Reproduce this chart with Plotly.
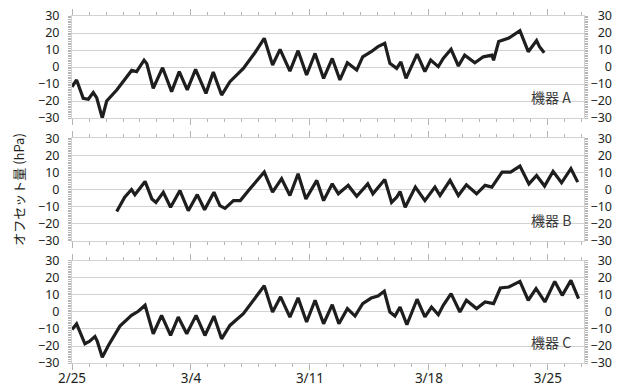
import pandas as pd
import plotly.graph_objects as go

BASE = pd.Timestamp("2023-02-25")

# Instrument A: (day offset from 2/25, offset hPa)
a_day = [0.0, 0.27, 0.66, 0.96, 1.25, 1.45, 1.78, 2.04, 2.63, 3.51, 3.80, 4.24, 4.40, 4.78, 5.33,
         5.86, 6.31, 6.78, 7.27, 7.88, 8.31, 8.80, 9.29, 10.08, 10.76, 11.31, 11.80, 12.24, 12.82,
         13.30, 13.80, 14.30, 14.80, 15.31, 15.76, 16.20, 16.75, 17.10, 17.60, 18.00, 18.40, 18.70,
         19.10, 19.35, 19.65, 20.30, 20.76, 21.10, 21.55, 21.84, 22.30, 22.73, 23.10, 23.70, 24.20,
         24.70, 24.80, 25.10, 25.70, 26.35, 26.84, 27.33, 27.50, 27.78]
a_val = [-11.6, -7.6, -18.4, -19.0, -15.0, -18.0, -30.0, -20.0, -13.5, -2.0, -2.7, 4.0, 2.0, -12.5, -0.4,
         -14.5, -2.7, -13.5, -1.4, -15.5, -3.0, -16.5, -8.6, -0.8, 8.4, 16.9, 1.2, 10.4, -2.4,
         9.6, -4.7, 8.0, -6.7, 5.0, -7.6, 2.5, -1.8, 6.0, 9.0, 12.0, 14.0, 2.2,
         -0.8, 3.0, -6.7, 7.6, -2.7, 4.1, 0.2, 5.0, 10.4, 0.6, 7.0, 2.5, 6.0,
         7.0, 4.0, 15.0, 17.0, 21.4, 9.0, 15.5, 12.0, 8.4]

# Instrument B
b_day = [2.63, 3.10, 3.50, 3.70, 4.30, 4.70, 4.94, 5.37, 5.80, 6.35, 6.84, 7.37, 7.80, 8.35, 8.70,
         9.00, 9.50, 9.90, 10.47, 11.31, 11.80, 12.33, 12.82, 13.30, 13.76, 14.00, 14.40, 14.80,
         15.31, 15.67, 16.25, 16.75, 17.40, 17.70, 18.40, 18.80, 19.10, 19.30, 19.60, 20.20, 20.76,
         21.35, 21.65, 22.24, 22.73, 23.20, 23.80, 24.30, 24.70, 25.30, 25.80, 26.35, 26.88, 27.33,
         27.80, 28.30, 28.80, 29.35, 29.75]
b_val = [-12.9, -4.5, 0.0, -3.0, 4.7, -5.5, -7.5, -1.6, -10.4, -0.6, -12.4, -3.0, -11.8, -1.6, -9.4,
         -11.0, -6.5, -6.5, 0.4, 10.2, -1.6, 6.3, -3.5, 9.2, -5.5, -1.6, 5.3, -6.5,
         3.3, -2.5, 2.4, -4.0, 3.3, -2.5, 5.9, -7.5, -4.5, -1.2, -10.4, 1.4, -6.5,
         1.4, -3.5, 5.3, -3.5, 2.7, -2.5, 2.4, 1.4, 10.2, 10.2, 13.7, 3.3, 8.2,
         2.0, 10.6, 3.9, 12.2, 4.3]

# Instrument C
c_day = [0.0, 0.27, 0.76, 1.02, 1.35, 1.49, 1.78, 2.14, 2.82, 3.50, 3.90, 4.30, 4.78, 5.27, 5.80,
         6.25, 6.75, 7.30, 7.82, 8.35, 8.80, 9.29, 10.08, 10.76, 11.31, 11.80, 12.27, 12.82, 13.30,
         13.80, 14.30, 14.80, 15.31, 15.70, 16.20, 16.65, 17.10, 17.60, 18.00, 18.37, 18.70, 19.00,
         19.30, 19.70, 20.30, 20.76, 21.15, 21.55, 21.84, 22.30, 22.82, 23.20, 23.80, 24.30, 24.80,
         25.20, 25.70, 26.35, 26.84, 27.30, 27.82, 28.40, 28.84, 29.35, 29.80]
c_val = [-10.3, -7.0, -18.7, -17.3, -14.4, -17.3, -26.6, -19.7, -8.3, -2.0, 0.4, 4.0, -12.8, -2.0, -13.8,
         -3.0, -12.8, -2.0, -13.8, -2.4, -15.8, -7.9, -1.0, 8.3, 15.4, 0.0, 8.9, -3.0, 8.3,
         -5.9, 6.9, -6.9, 4.3, -6.9, 2.0, -2.4, 4.9, 8.2, 9.4, 12.2, 0.0, -2.4,
         2.9, -7.5, 7.5, -2.9, 2.9, -1.6, 3.9, 10.8, 0.0, 6.9, 2.0, 5.9, 4.9,
         14.1, 14.7, 18.0, 6.9, 13.7, 5.9, 18.0, 9.8, 18.6, 7.8]

panel_labels = ["機器 A", "機器 B", "機器 C"]
y_ticks = [-30, -20, -10, 0, 10, 20, 30]
y_title = "オフセット量 (hPa)"

NUM_FONT = "Noto Sans, Open Sans, sans-serif"
JP_FONT = "Noto Sans CJK JP, sans-serif"
LINE_C = "#1e1e1e"
GRID_C = "#d2d2d2"
TICK_C = "#b4b4b4"
TXT_C = "#231f20"

series = [(a_day, a_val), (b_day, b_val), (c_day, c_val)]
domains = [[0.706, 1.0], [0.352, 0.648], [0.0, 0.294]]

fig = go.Figure()
x0 = BASE
x1 = BASE + pd.Timedelta(days=30.12)

def ylab_right(v):
    s = str(v).replace("-", "\u2212")
    if v < 0:
        return s
    return "\u2007" * max(3 - len(s), 0) + s

for i, (d, v) in enumerate(series):
    n = i + 1
    xs = [BASE + pd.Timedelta(days=t) for t in d]
    fig.add_trace(go.Scatter(x=xs, y=v, mode="lines",
                             line=dict(color=LINE_C, width=3.2),
                             xaxis=f"x{n}" if n > 1 else "x",
                             yaxis=f"y{n}" if n > 1 else "y",
                             showlegend=False, hoverinfo="skip"))
    xa = dict(type="date", range=[x0, x1], anchor=f"y{n}" if n > 1 else "y",
              tick0=BASE, dtick=7 * 86400000, tickformat="%-m/%-d",
              ticks="outside", ticklen=6, tickcolor=TICK_C, tickwidth=1,
              minor=dict(dtick=86400000, ticks="outside", ticklen=3, tickcolor=TICK_C),
              showline=True, linecolor=GRID_C, mirror="ticks",
              showgrid=False, showticklabels=(n == 3), ticklabeloverflow="allow",
              ticklabelstandoff=-3,
              tickfont=dict(family=NUM_FONT, size=13.5, color=TXT_C))
    if n > 1:
        xa["matches"] = "x"
    ya = dict(domain=domains[i], range=[-30, 30], tickvals=y_ticks,
              ticktext=[str(t).replace("-", "\u2212") for t in y_ticks],
              anchor=f"x{n}" if n > 1 else "x",
              ticks="outside", ticklen=3, tickcolor=TICK_C,
              minor=dict(dtick=1, ticks="outside", ticklen=3, tickcolor=TICK_C),
              showgrid=True, gridcolor=GRID_C, gridwidth=1,
              showline=True, linecolor=GRID_C, mirror=True, zeroline=False,
              ticklabelstandoff=6, ticklabeloverflow="allow",
              tickfont=dict(family=NUM_FONT, size=12.5, color=TXT_C))
    yr = dict(domain=domains[i], range=[-30, 30], tickvals=y_ticks,
              ticktext=[ylab_right(t) for t in y_ticks],
              overlaying=f"y{n}" if n > 1 else "y", side="right",
              anchor=f"x{n}" if n > 1 else "x",
              ticks="outside", ticklen=3, tickcolor=TICK_C,
              minor=dict(dtick=1, ticks="outside", ticklen=3, tickcolor=TICK_C),
              showgrid=False, showline=False, zeroline=False,
              ticklabelstandoff=0, ticklabeloverflow="allow",
              tickfont=dict(family=NUM_FONT, size=12.5, color=TXT_C))
    fig.update_layout(**{("xaxis" if n == 1 else f"xaxis{n}"): xa,
                         ("yaxis" if n == 1 else f"yaxis{n}"): ya,
                         f"yaxis{n + 3}": yr})
    fig.add_trace(go.Scatter(x=[xs[0]], y=[v[0]], mode="markers", marker=dict(opacity=0),
                             xaxis=f"x{n}" if n > 1 else "x", yaxis=f"y{n + 3}",
                             showlegend=False, hoverinfo="skip"))
    fig.add_annotation(text=panel_labels[i], xref="paper", x=0.979, xanchor="right",
                       yref=f"y{n}" if n > 1 else "y", y=-17.6, yanchor="middle",
                       showarrow=False, font=dict(family=JP_FONT, size=14, color="#3a3a3a"))

fig.add_annotation(text=y_title, xref="paper", yref="paper", x=-0.105, y=0.5,
                   textangle=-90, showarrow=False, xanchor="center", yanchor="middle",
                   font=dict(family=JP_FONT, size=13, color=TXT_C))

# page body adds an 8px margin; figure sized so plot lands at the reference position
fig.update_layout(width=617, height=380,
                  margin=dict(l=64, r=41, t=8, b=25, autoexpand=False),
                  paper_bgcolor="white", plot_bgcolor="white")

fig.write_html("out.html")
